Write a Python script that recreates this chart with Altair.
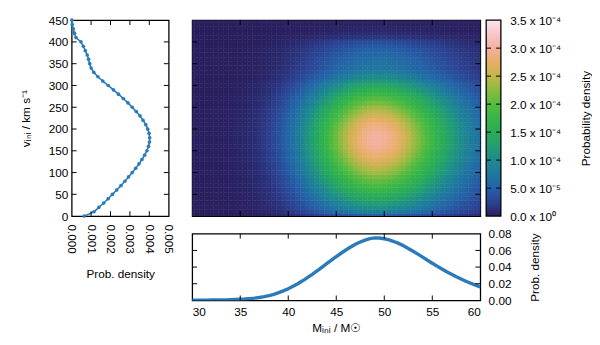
import altair as alt
import pandas as pd

# ---------------- data ----------------
v_vals = list(range(0, 451, 10))
pv_vals = [0.00065, 0.00115, 0.00140, 0.00165, 0.00188, 0.00210, 0.00232, 0.00254,
           0.00274, 0.00293, 0.00312, 0.00330, 0.00347, 0.00362, 0.00376, 0.00388,
           0.00396, 0.00401, 0.00402, 0.00399, 0.00392, 0.00382, 0.00368, 0.00352,
           0.00333, 0.00312, 0.00290, 0.00266, 0.00241, 0.00215, 0.00188, 0.00160,
           0.00135, 0.00114, 0.00100, 0.00093, 0.00087, 0.00080, 0.00070, 0.00060,
           0.00048, 0.00022, 0.00014, 0.00008, 0.00003, 0.00001]

M_vals = [30 + 0.5 * i for i in range(61)]
pM_vals = [0.0003, 0.0003, 0.0003, 0.0003, 0.0004, 0.0004, 0.0005, 0.0006, 0.0008, 0.0010,
           0.0013, 0.0016, 0.0021, 0.0027, 0.0035, 0.0045, 0.0058, 0.0073, 0.0092, 0.0114,
           0.0140, 0.0169, 0.0200, 0.0235, 0.0273, 0.0312, 0.0354, 0.0397, 0.0440, 0.0483,
           0.0525, 0.0566, 0.0605, 0.0641, 0.0673, 0.0701, 0.0724, 0.0741, 0.0750, 0.0749,
           0.0740, 0.0726, 0.0707, 0.0684, 0.0656, 0.0624, 0.0590, 0.0555, 0.0519, 0.0482,
           0.0446, 0.0411, 0.0377, 0.0344, 0.0313, 0.0283, 0.0256, 0.0230, 0.0206, 0.0183,
           0.0162]

# tick values
v_labels = [0, 50, 100, 150, 200, 250, 300, 350, 400, 450]
v_ticks = [50, 100, 150, 200, 250, 300, 350, 400]
pv_labels = [0.000, 0.001, 0.002, 0.003, 0.004, 0.005]
pv_ticks = [0.001, 0.002, 0.003, 0.004]
M_labels = [30, 35, 40, 45, 50, 55, 60]
M_ticks = [35, 40, 45, 50, 55]
pM_labels = [0.00, 0.02, 0.04, 0.06, 0.08]
pM_ticks = [0.02, 0.04, 0.06]
cb_labels = [0, 0.5e-4, 1.0e-4, 1.5e-4, 2.0e-4, 2.5e-4, 3.0e-4, 3.5e-4]
cb_ticks = [0.5e-4, 1.0e-4, 1.5e-4, 2.0e-4, 2.5e-4, 3.0e-4]

# colour map
c_stops = [0, 0.25e-4, 0.5e-4, 0.75e-4, 1.0e-4, 1.25e-4, 1.5e-4, 1.75e-4,
           2.0e-4, 2.25e-4, 2.5e-4, 2.75e-4, 3.0e-4, 3.25e-4, 3.5e-4]
c_colors = ["#2a1f5e", "#2c4292", "#2461a8", "#1f789f", "#1d8c8c", "#229f70",
            "#2aac58", "#38b548", "#55bb40", "#8abb40", "#c3b54c", "#e8ae66",
            "#f5b09e", "#f8c6c8", "#fbe4f2"]

LINE = "#2b7bba"
FONT = "Liberation Sans"
TOP_H = 200
LEFT_W = 99
HEAT_W = 294
CB_GAP = 6
CB_W = 15
BOT_H = 68
TL = 5


# ---------------- helpers ----------------
def tick_layers(xvals, yvals, xscale, yscale, x0, x1, H, xaxis=None, yaxis=None):
    layers = []
    if xvals:
        base = alt.Chart(pd.DataFrame({"tx": xvals})).mark_rule(color="black", strokeWidth=1)
        layers.append(base.encode(x=alt.X("tx:Q", scale=xscale, axis=xaxis),
                                  y=alt.value(H), y2=alt.value(H - TL)))
        layers.append(base.encode(x=alt.X("tx:Q", scale=xscale, axis=xaxis),
                                  y=alt.value(0), y2=alt.value(TL)))
    if yvals:
        base = alt.Chart(pd.DataFrame({"ty": yvals})).mark_rule(color="black", strokeWidth=1)
        layers.append(base.encode(y=alt.Y("ty:Q", scale=yscale, axis=yaxis),
                                  x=alt.value(x0), x2=alt.value(x0 + TL)))
        layers.append(base.encode(y=alt.Y("ty:Q", scale=yscale, axis=yaxis),
                                  x=alt.value(x1), x2=alt.value(x1 - TL)))
    return layers


# ---------------- left marginal ----------------
pv_scale = alt.Scale(domain=[0, 0.005], nice=False, zero=False)
v_scale = alt.Scale(domain=[0, 450], nice=False, zero=False)
pv_axis = alt.Axis(values=pv_labels, format=".3f", labelAngle=90, labelAlign="left",
                   labelBaseline="middle", labelPadding=8, title="Prob. density",
                   titlePadding=16)
v_axis = alt.Axis(values=v_labels, format="d", labelPadding=4,
                  title="vᵢₙᵢ / km s⁻¹", titlePadding=16)
df_v = pd.DataFrame({"v": v_vals, "pv": pv_vals})
left_line = alt.Chart(df_v).mark_line(
    color=LINE, strokeWidth=1.6,
    point=alt.OverlayMarkDef(color=LINE, size=14, filled=True)
).encode(
    x=alt.X("pv:Q", scale=pv_scale, axis=pv_axis),
    y=alt.Y("v:Q", scale=v_scale, axis=v_axis),
    order="v:Q",
)
left = alt.layer(
    left_line,
    *tick_layers(pv_ticks, v_ticks, pv_scale, v_scale, 0, LEFT_W, TOP_H, pv_axis, v_axis)
).properties(width=LEFT_W, height=TOP_H)

# ---------------- heat map + colour bar ----------------
rows = []
for v, pv in zip(v_vals, pv_vals):
    for M, pM in zip(M_vals, pM_vals):
        rows.append({"M0": M - 0.25, "M1": M + 0.25, "v0": v - 5, "v1": v + 5, "P": pM * pv})
df_h = pd.DataFrame(rows)
M_scale = alt.Scale(domain=[30, 60], nice=False, zero=False)
cscale = alt.Scale(domain=c_stops, range=c_colors, interpolate="rgb", clamp=True)
heat_rect = alt.Chart(df_h).mark_rect(clip=True, strokeWidth=0.6).encode(
    x=alt.X("M0:Q", scale=M_scale, axis=None),
    x2="M1:Q",
    y=alt.Y("v0:Q", scale=v_scale, axis=None),
    y2="v1:Q",
    color=alt.Color("P:Q", scale=cscale, legend=None),
    stroke=alt.Stroke("P:Q", scale=cscale, legend=None),
)

cb_scale = alt.Scale(domain=[0, 3.5e-4], nice=False, zero=False)
CB_X0 = HEAT_W + CB_GAP
CB_X1 = CB_X0 + CB_W
grad = alt.Gradient(
    gradient="linear", x1=0, x2=0, y1=1, y2=0,
    stops=[alt.GradientStop(offset=s / 3.5e-4, color=c) for s, c in zip(c_stops, c_colors)],
)
cb_rect = alt.Chart(pd.DataFrame({"a": [0]})).mark_rect(
    fill=grad, stroke="black", strokeWidth=1.3
).encode(x=alt.value(CB_X0), x2=alt.value(CB_X1), y=alt.value(0), y2=alt.value(TOP_H))
label_expr = ("datum.value == 0 ? '0.0 x 10⁰' : (datum.value < 0.00009 ? "
              "format(datum.value * 1e5, '.1f') + ' x 10⁻⁵' : "
              "format(datum.value * 1e4, '.1f') + ' x 10⁻⁴')")
cb_axis = alt.Axis(orient="right", values=cb_labels, labelExpr=label_expr,
                   offset=CB_GAP + CB_W, labelPadding=9,
                   title="Probability density", titleAngle=270,
                   titleX=86, titleY=TOP_H / 2, titleAlign="center",
                   titleBaseline="middle")
cb_axis_layer = alt.Chart(pd.DataFrame({"cv": cb_labels})).mark_rule(opacity=0).encode(
    y=alt.Y("cv:Q", scale=cb_scale, axis=cb_axis),
    x=alt.value(CB_X0), x2=alt.value(CB_X0 + 1),
)
cb_tick_layers = tick_layers([], cb_ticks, None, cb_scale, CB_X0, CB_X1, TOP_H)

heat = alt.layer(
    heat_rect,
    *tick_layers(M_ticks, v_ticks, M_scale, v_scale, 0, HEAT_W, TOP_H),
    cb_rect, cb_axis_layer, *cb_tick_layers,
).resolve_scale(y="independent").properties(width=HEAT_W, height=TOP_H)

# ---------------- bottom marginal ----------------
pM_scale = alt.Scale(domain=[0, 0.08], nice=False, zero=False)
M_axis = alt.Axis(values=M_labels, format="d", labelPadding=6,
                  title="Mᵢₙᵢ / M☉", titlePadding=6)
pM_axis = alt.Axis(orient="right", values=pM_labels, format=".2f", labelPadding=8,
                   title="Prob. density", titleAngle=270,
                   titleX=55, titleY=BOT_H / 2, titleAlign="center",
                   titleBaseline="middle")
df_M = pd.DataFrame({"M": M_vals, "pM": pM_vals})
bot_line = alt.Chart(df_M).mark_line(color=LINE, strokeWidth=3.5, clip=True).encode(
    x=alt.X("M:Q", scale=M_scale, axis=M_axis),
    y=alt.Y("pM:Q", scale=pM_scale, axis=pM_axis),
)
bottom = alt.layer(
    bot_line,
    *tick_layers(M_ticks, pM_ticks, M_scale, pM_scale, 0, HEAT_W, BOT_H, M_axis, pM_axis)
).properties(width=HEAT_W, height=BOT_H)

spacer = alt.Chart(pd.DataFrame({"a": [0]})).mark_point(opacity=0).encode(
    x=alt.value(0), y=alt.value(0)
).properties(width=LEFT_W, height=BOT_H, view=alt.ViewBackground(strokeOpacity=0))

chart = alt.concat(
    left, heat, spacer, bottom, columns=2,
    spacing={"row": 18, "column": 24}, bounds="flush",
).properties(
    padding={"left": 11, "top": 2, "right": 0, "bottom": 0}
).configure_axis(
    labelFont=FONT, labelFontSize=12, labelColor="black",
    titleFont=FONT, titleFontSize=12, titleFontWeight="normal", titleColor="black",
    ticks=False, domain=False, grid=False,
).configure_view(stroke="black", strokeWidth=1.3)

chart.save("out.html", embed_options={"renderer": "svg", "actions": False})
